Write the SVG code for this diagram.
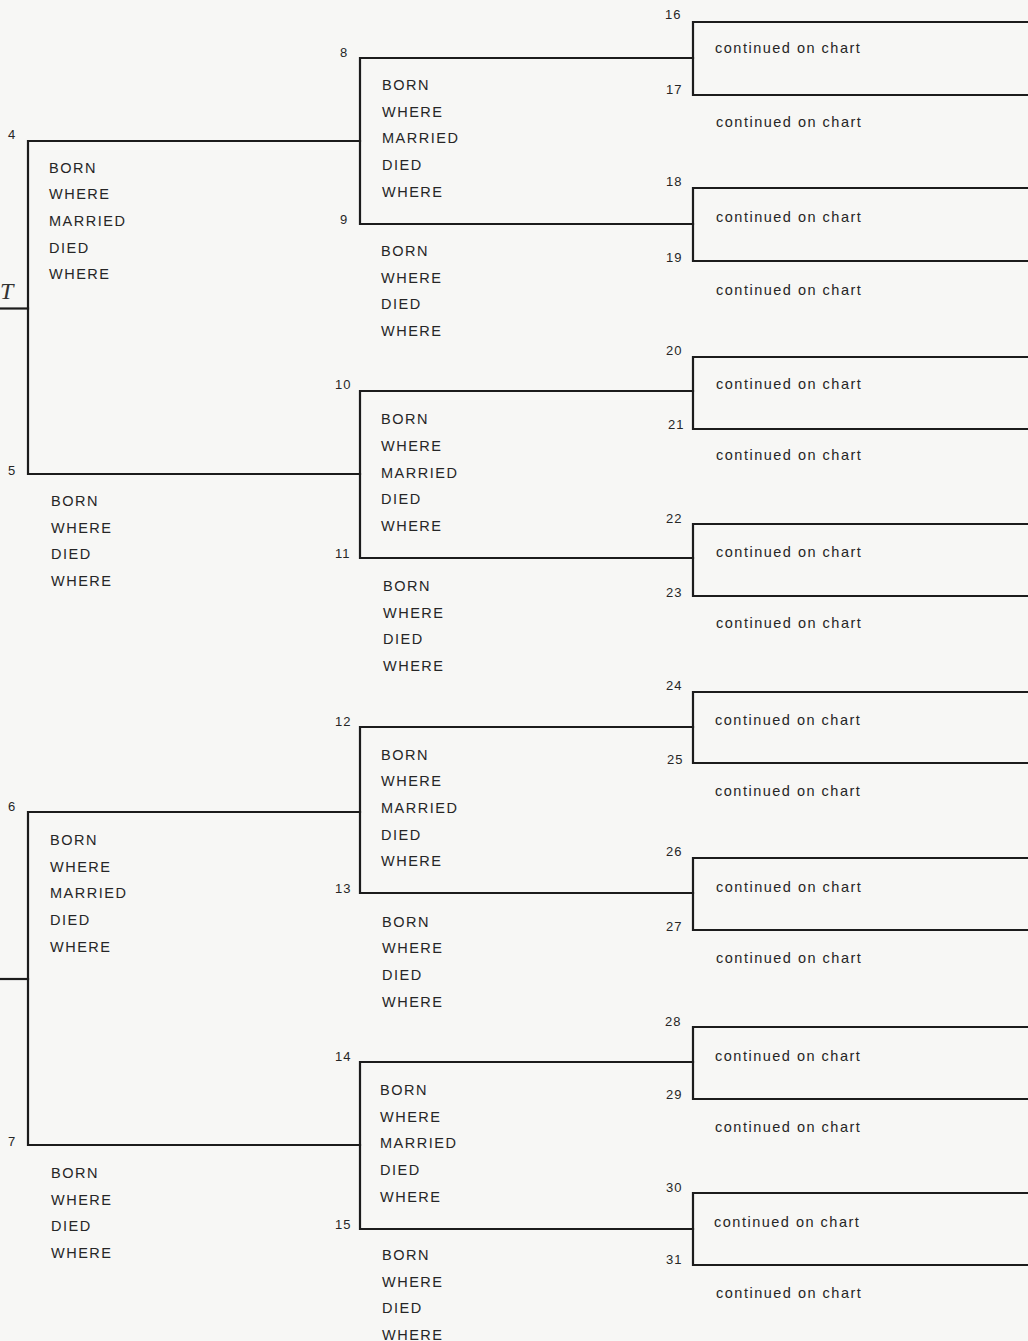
<svg xmlns="http://www.w3.org/2000/svg" width="1028" height="1341" viewBox="0 0 1028 1341">
<style>
.bg{fill:#f7f7f5}
.ln{fill:none;stroke:#1c1c1c;stroke-width:2.2;stroke-linejoin:miter;stroke-linecap:square}
.t{font-family:"Liberation Sans",Arial,Helvetica,sans-serif;font-size:14.5px;letter-spacing:1.5px;fill:#262626}
.n{font-family:"Liberation Sans",Arial,Helvetica,sans-serif;font-size:13px;letter-spacing:1px;fill:#262626}
.hw{font-family:"Liberation Serif",serif;font-style:italic;font-size:24px;fill:#333}
</style>
<rect class="bg" x="0" y="0" width="1028" height="1341"/>

<g id="connectors">
  <path class="ln" d="M0,308.5 H28"/>
  <path class="ln" d="M360,141 H28 V474 H360"/>
  <path class="ln" d="M0,979 H28"/>
  <path class="ln" d="M360,812 H28 V1145 H360"/>
  <path class="ln" d="M693,58 H360 V224 H693"/>
  <path class="ln" d="M693,391 H360 V558 H693"/>
  <path class="ln" d="M693,727 H360 V893 H693"/>
  <path class="ln" d="M693,1062 H360 V1229 H693"/>
  <path class="ln" d="M1028,22 H693 V95 H1028"/>
  <path class="ln" d="M1028,188 H693 V261 H1028"/>
  <path class="ln" d="M1028,357 H693 V429 H1028"/>
  <path class="ln" d="M1028,524 H693 V596 H1028"/>
  <path class="ln" d="M1028,692 H693 V763 H1028"/>
  <path class="ln" d="M1028,858 H693 V930 H1028"/>
  <path class="ln" d="M1028,1027 H693 V1099 H1028"/>
  <path class="ln" d="M1028,1193 H693 V1265 H1028"/>
</g>

<text class="hw" x="0" y="299">T</text>

<g id="p4"><text class="n" x="8" y="139">4</text>
<text class="t" x="49" y="172.5">BORN</text><text class="t" x="49" y="199.2">WHERE</text><text class="t" x="49" y="225.8">MARRIED</text><text class="t" x="49" y="252.5">DIED</text><text class="t" x="49" y="279.2">WHERE</text></g>

<g id="p5"><text class="n" x="8" y="474.5">5</text>
<text class="t" x="51" y="506">BORN</text><text class="t" x="51" y="532.7">WHERE</text><text class="t" x="51" y="559.3">DIED</text><text class="t" x="51" y="586">WHERE</text></g>

<g id="p6"><text class="n" x="8" y="810.7">6</text>
<text class="t" x="50" y="845">BORN</text><text class="t" x="50" y="871.7">WHERE</text><text class="t" x="50" y="898.3">MARRIED</text><text class="t" x="50" y="925">DIED</text><text class="t" x="50" y="951.7">WHERE</text></g>

<g id="p7"><text class="n" x="8" y="1146">7</text>
<text class="t" x="51" y="1178">BORN</text><text class="t" x="51" y="1204.7">WHERE</text><text class="t" x="51" y="1231.3">DIED</text><text class="t" x="51" y="1258">WHERE</text></g>

<g id="p8"><text class="n" x="340" y="56.7">8</text>
<text class="t" x="382" y="90">BORN</text><text class="t" x="382" y="116.7">WHERE</text><text class="t" x="382" y="143.3">MARRIED</text><text class="t" x="382" y="170">DIED</text><text class="t" x="382" y="196.7">WHERE</text></g>

<g id="p9"><text class="n" x="340" y="223.5">9</text>
<text class="t" x="381" y="256">BORN</text><text class="t" x="381" y="282.7">WHERE</text><text class="t" x="381" y="309.3">DIED</text><text class="t" x="381" y="336">WHERE</text></g>

<g id="p10"><text class="n" x="335" y="389.3">10</text>
<text class="t" x="381" y="424.3">BORN</text><text class="t" x="381" y="451">WHERE</text><text class="t" x="381" y="477.7">MARRIED</text><text class="t" x="381" y="504.3">DIED</text><text class="t" x="381" y="531">WHERE</text></g>

<g id="p11"><text class="n" x="335" y="558.3">11</text>
<text class="t" x="383" y="591">BORN</text><text class="t" x="383" y="617.7">WHERE</text><text class="t" x="383" y="644.3">DIED</text><text class="t" x="383" y="671">WHERE</text></g>

<g id="p12"><text class="n" x="335" y="726">12</text>
<text class="t" x="381" y="759.5">BORN</text><text class="t" x="381" y="786.2">WHERE</text><text class="t" x="381" y="812.8">MARRIED</text><text class="t" x="381" y="839.5">DIED</text><text class="t" x="381" y="866.2">WHERE</text></g>

<g id="p13"><text class="n" x="335" y="893.3">13</text>
<text class="t" x="382" y="926.7">BORN</text><text class="t" x="382" y="953.3">WHERE</text><text class="t" x="382" y="980">DIED</text><text class="t" x="382" y="1006.7">WHERE</text></g>

<g id="p14"><text class="n" x="335" y="1060.7">14</text>
<text class="t" x="380" y="1095">BORN</text><text class="t" x="380" y="1121.7">WHERE</text><text class="t" x="380" y="1148.3">MARRIED</text><text class="t" x="380" y="1175">DIED</text><text class="t" x="380" y="1201.7">WHERE</text></g>

<g id="p15"><text class="n" x="335" y="1229">15</text>
<text class="t" x="382" y="1260">BORN</text><text class="t" x="382" y="1286.7">WHERE</text><text class="t" x="382" y="1313.3">DIED</text><text class="t" x="382" y="1340">WHERE</text></g>

<g id="p16"><text class="n" x="665" y="19">16</text><text class="t" x="715" y="53.3">continued on chart</text></g>
<g id="p17"><text class="n" x="666" y="94.3">17</text><text class="t" x="716" y="127">continued on chart</text></g>
<g id="p18"><text class="n" x="666" y="186">18</text><text class="t" x="716" y="221.5">continued on chart</text></g>
<g id="p19"><text class="n" x="666" y="262">19</text><text class="t" x="716" y="294.5">continued on chart</text></g>
<g id="p20"><text class="n" x="666" y="355">20</text><text class="t" x="716" y="389.3">continued on chart</text></g>
<g id="p21"><text class="n" x="668" y="429">21</text><text class="t" x="716" y="459.5">continued on chart</text></g>
<g id="p22"><text class="n" x="666" y="523.3">22</text><text class="t" x="716" y="556.5">continued on chart</text></g>
<g id="p23"><text class="n" x="666" y="597">23</text><text class="t" x="716" y="627.5">continued on chart</text></g>
<g id="p24"><text class="n" x="666" y="690">24</text><text class="t" x="715" y="724.5">continued on chart</text></g>
<g id="p25"><text class="n" x="667" y="764">25</text><text class="t" x="715" y="795.5">continued on chart</text></g>
<g id="p26"><text class="n" x="666" y="856">26</text><text class="t" x="716" y="891.5">continued on chart</text></g>
<g id="p27"><text class="n" x="666" y="930.7">27</text><text class="t" x="716" y="962.5">continued on chart</text></g>
<g id="p28"><text class="n" x="665" y="1026">28</text><text class="t" x="715" y="1060.5">continued on chart</text></g>
<g id="p29"><text class="n" x="666" y="1099.3">29</text><text class="t" x="715" y="1131.5">continued on chart</text></g>
<g id="p30"><text class="n" x="666" y="1191.7">30</text><text class="t" x="714" y="1226.7">continued on chart</text></g>
<g id="p31"><text class="n" x="666" y="1264.3">31</text><text class="t" x="716" y="1297.7">continued on chart</text></g>
</svg>
